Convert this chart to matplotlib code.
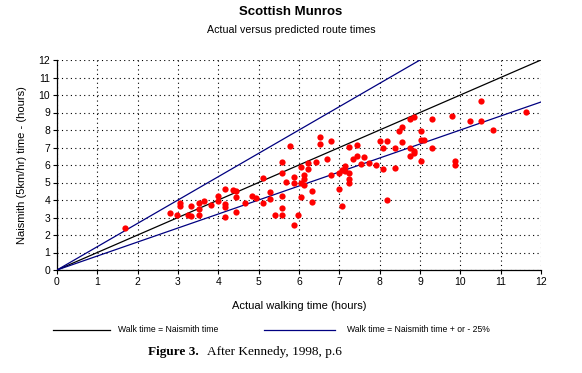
import matplotlib
matplotlib.use("Agg")
import matplotlib.pyplot as plt
from matplotlib.lines import Line2D

plt.rcParams['font.family'] = ['Liberation Sans', 'DejaVu Sans']

actual = [1.68, 2.80, 2.98, 3.06, 3.06, 3.25, 3.33, 3.33, 3.52, 3.52, 3.52, 3.64, 3.82,
          3.99, 3.99, 4.17, 4.17, 4.17, 4.17, 4.36, 4.45, 4.45, 4.45, 4.65, 4.83, 4.94,
          5.11, 5.11, 5.29, 5.29, 5.40, 5.57, 5.57, 5.57, 5.57, 5.57, 5.68, 5.78, 5.87,
          5.87, 5.87, 5.97, 6.05, 6.05, 6.05, 6.13, 6.13, 6.13, 6.23, 6.23, 6.31, 6.31,
          6.41, 6.51, 6.51, 6.70, 6.80, 6.80, 6.99, 6.99, 7.07, 7.07, 7.15, 7.15, 7.25,
          7.25, 7.25, 7.25, 7.35, 7.43, 7.43, 7.53, 7.62, 7.73, 7.91, 8.00, 8.09, 8.09,
          8.18, 8.18, 8.37, 8.37, 8.47, 8.55, 8.55, 8.75, 8.84, 8.75, 8.75, 8.84, 8.84,
          9.02, 9.02, 9.02, 9.10, 9.30, 9.30, 9.79, 9.88, 9.88, 10.24, 10.51, 10.51,
          10.81, 11.63]
naismith = [2.38, 3.27, 3.12, 3.81, 3.68, 3.13, 3.10, 3.66, 3.14, 3.48, 3.81, 3.96, 3.70,
            3.95, 4.23, 4.61, 3.77, 3.60, 3.01, 4.59, 4.50, 4.15, 3.33, 3.81, 4.21, 4.10,
            5.27, 3.85, 4.46, 4.08, 3.17, 6.15, 5.57, 4.21, 3.53, 3.17, 5.01, 7.07, 5.31,
            4.96, 2.59, 3.16, 5.87, 5.00, 4.16, 5.41, 5.18, 4.84, 6.10, 5.79, 4.50, 3.90,
            6.17, 7.58, 7.21, 6.33, 7.35, 5.41, 5.52, 4.65, 5.71, 3.65, 5.94, 5.67, 7.01,
            5.52, 5.18, 4.95, 6.33, 7.16, 6.51, 6.06, 6.48, 6.13, 5.98, 7.35, 6.95, 5.75,
            7.35, 4.00, 6.95, 5.85, 7.92, 8.15, 7.33, 8.65, 8.77, 6.95, 6.51, 6.78, 6.70,
            7.92, 7.43, 6.21, 7.43, 8.65, 6.95, 8.80, 6.21, 5.98, 8.53, 9.66, 8.53,
            8.00, 9.03]

equal_x = [0, 12]
equal_y = [0, 12]
upper_x = [0, 9]
upper_y = [0, 12]
lower_x = [0, 12]
lower_y = [0, 9.6]

xticks = list(range(0, 13))
yticks = list(range(0, 13))

fig = plt.figure(figsize=(5.82, 3.73), dpi=100)
ax = fig.add_axes([57/582, 1-270/373, (541-57)/582, (270-60)/373])

ax.set_xlim(0, 12)
ax.set_ylim(0, 12)
ax.set_xticks(xticks)
ax.set_yticks(yticks)
ax.tick_params(labelsize=7.5, length=3, width=0.8, direction='out', pad=2)
ax.grid(True, color='black', linestyle=(0, (1, 3)), linewidth=0.8)
for s in ['top', 'right']:
    ax.spines[s].set_visible(False)
for s in ['left', 'bottom']:
    ax.spines[s].set_linewidth(0.9)

ax.plot(equal_x, equal_y, color='black', lw=0.9, zorder=3)
ax.plot(upper_x, upper_y, color='#000080', lw=0.9, zorder=3)
ax.plot(lower_x, lower_y, color='#000080', lw=0.9, zorder=3)
ax.plot(actual, naismith, 'o', color='#ff0000', markersize=4.5, markeredgewidth=0, zorder=4)

ax.set_xlabel('Actual walking time (hours)', fontsize=8, labelpad=10)
ax.set_ylabel('Naismith (5km/hr) time - (hours)', fontsize=8, labelpad=8)

fig.text(0.5, 1-12/373, 'Scottish Munros', ha='center', va='center', fontsize=9.5, fontweight='bold')
fig.text(0.5, 1-30/373, 'Actual versus predicted route times', ha='center', va='center', fontsize=7.7)

ly = 1-330/373
fig.add_artist(Line2D([53/582, 110/582], [ly, ly], color='black', lw=0.9))
fig.text(118/582, ly, 'Walk time = Naismith time', ha='left', va='center', fontsize=6.2)
fig.add_artist(Line2D([264/582, 335/582], [ly, ly], color='#000080', lw=0.9))
fig.text(347/582, ly, 'Walk time = Naismith time + or - 25%', ha='left', va='center', fontsize=6.2)

fig.text(148/582, 1-352/373, 'Figure 3.', ha='left', va='center', fontsize=9.5,
         family='Liberation Serif', fontweight='bold')
fig.text(207/582, 1-352/373, 'After Kennedy, 1998, p.6', ha='left', va='center', fontsize=9.5,
         family='Liberation Serif')

fig.savefig('out.png', dpi=100)
